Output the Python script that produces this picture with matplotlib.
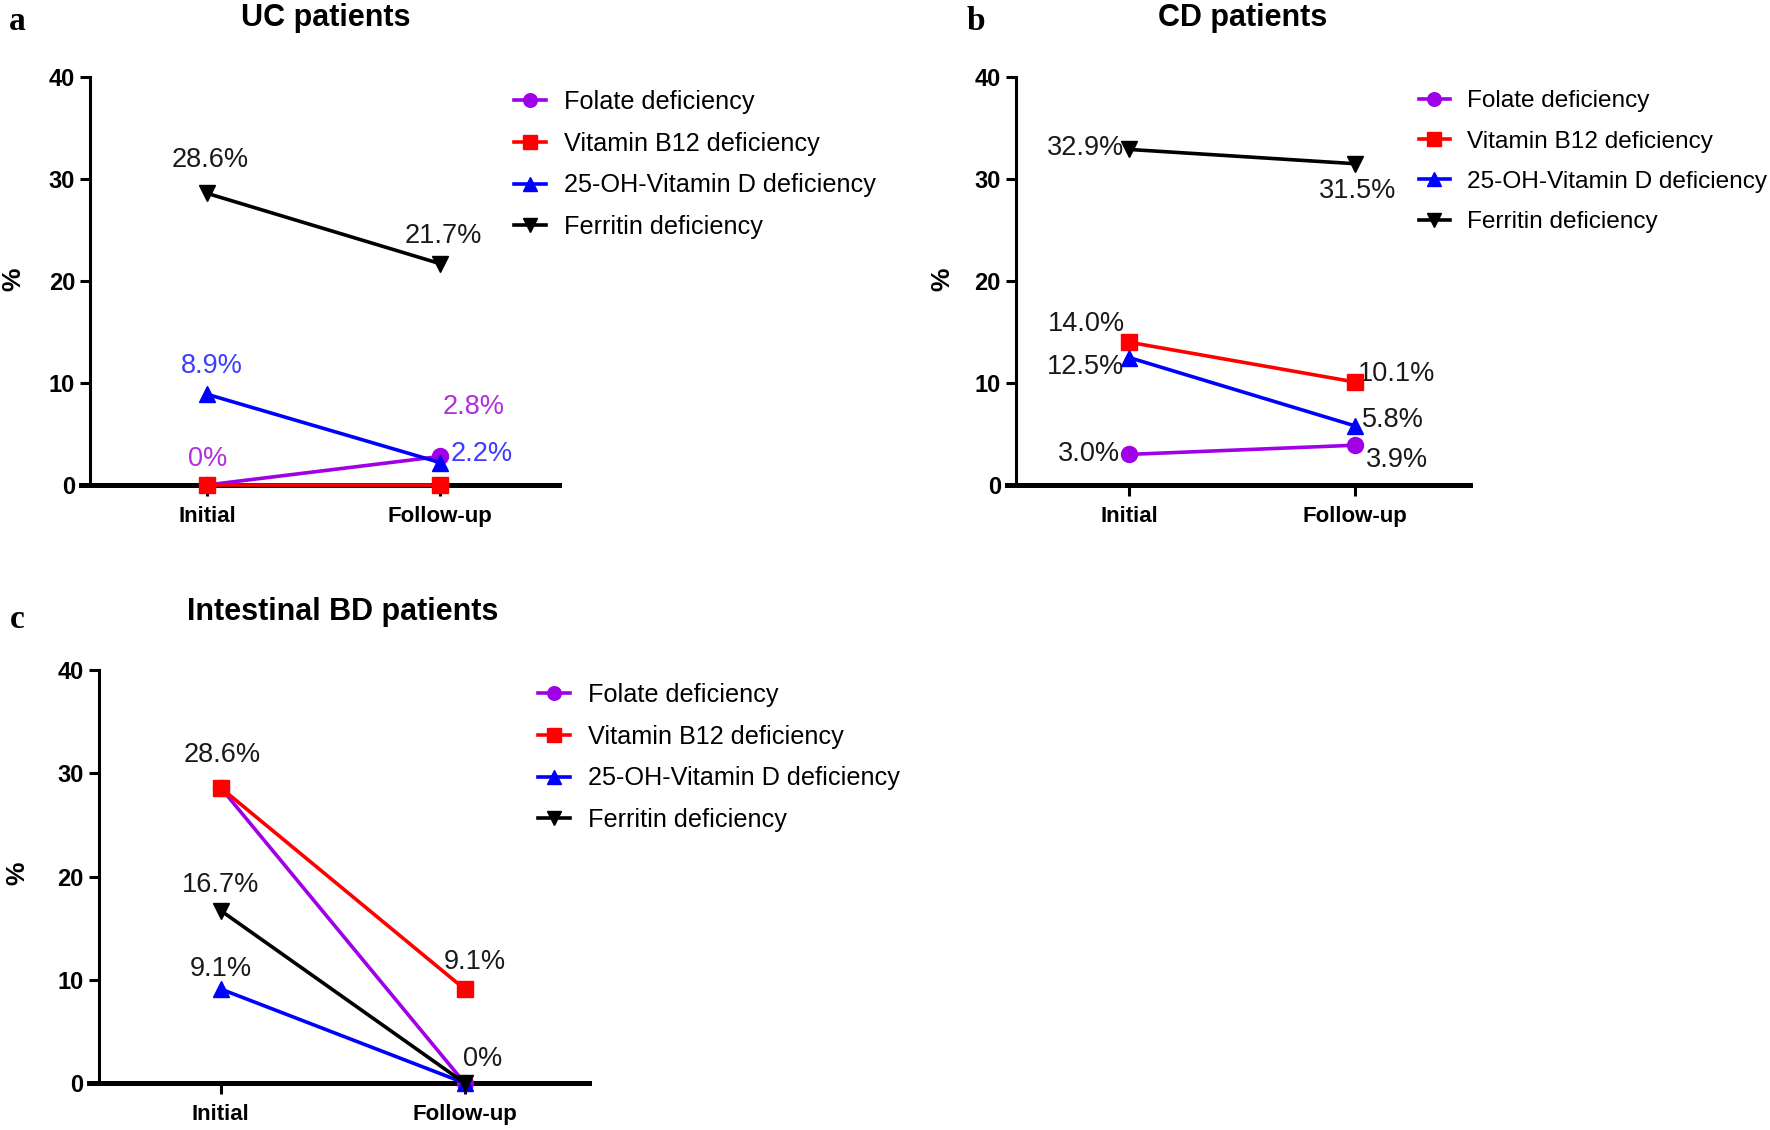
import matplotlib
matplotlib.use("Agg")
import matplotlib.pyplot as plt
from matplotlib import font_manager as fm

names = {f.name for f in fm.fontManager.ttflist}
NARROW = 'Liberation Sans Narrow' if 'Liberation Sans Narrow' in names else 'Liberation Sans'
plt.rcParams['font.family'] = [NARROW, 'DejaVu Sans']

W, H = 1770, 1130

# ---------------- data ----------------
timepoints = ["Initial", "Follow-up"]
series_names = ["Folate deficiency", "Vitamin B12 deficiency",
                "25-OH-Vitamin D deficiency", "Ferritin deficiency"]

uc_folate = [0.0, 2.8]
uc_b12 = [0.0, 0.0]
uc_vitd = [8.9, 2.2]
uc_ferritin = [28.6, 21.7]

cd_folate = [3.0, 3.9]
cd_b12 = [14.0, 10.1]
cd_vitd = [12.5, 5.8]
cd_ferritin = [32.9, 31.5]

bd_folate = [28.6, 0.0]
bd_b12 = [28.6, 9.1]
bd_vitd = [9.1, 0.0]
bd_ferritin = [16.7, 0.0]

y_ticks = [0, 10, 20, 30, 40]
titles = ["UC patients", "CD patients", "Intestinal BD patients"]
panel_letters = ["a", "b", "c"]

# ---------------- styles ----------------
colors = ['#A000E6', '#FF0000', '#0000FF', '#000000']
markers = ['o', 's', '^', 'v']
TXT = '#1a1a1a'


def fmt(v):
    return '0%' if v == 0 else f'{v:.1f}%'


def px_ax(left, right, top, bottom):
    return [left / W, 1 - bottom / H, (right - left) / W, (bottom - top) / H]


fig = plt.figure(figsize=(W / 100, H / 100), dpi=100)

panels = [
    dict(rect=px_ax(81, 559, 77, 485),
         data=[uc_folate, uc_b12, uc_vitd, uc_ferritin],
         # (series index, point index, dx, dy, color)
         ann=[(3, 0, 3, 33, TXT), (3, 1, 3, 28, TXT),
              (2, 0, 5, 28, '#3d3dff'), (0, 1, 34, 49, '#B030E0'),
              (2, 1, 42, 9, '#3d3dff'), (0, 0, 1, 26, '#B030E0')],
         legend=(514, 90), lfs=18.2, lsp=0.70,
         title=(326, 26), letter=(17, 30), ylab=(13, 279)),
    dict(rect=px_ax(1007, 1470, 77, 485),
         data=[cd_folate, cd_b12, cd_vitd, cd_ferritin],
         ann=[(3, 0, -43, 1, TXT), (3, 1, 3, -27, TXT),
              (1, 0, -43, 18, TXT), (2, 0, -43, -9, TXT),
              (1, 1, 42, 8, TXT), (2, 1, 38, 6, TXT),
              (0, 0, -40, 0, TXT), (0, 1, 42, -15, TXT)],
         legend=(1419, 90), lfs=17.6, lsp=0.75,
         title=(1243, 26), letter=(976, 30), ylab=(942, 279)),
    dict(rect=px_ax(89, 589, 670, 1083),
         data=[bd_folate, bd_b12, bd_vitd, bd_ferritin],
         ann=[(1, 0, 1, 33, TXT), (3, 0, 0, 26, TXT),
              (2, 0, 0, 20, TXT), (1, 1, 10, 27, TXT),
              (3, 1, 18, 24, TXT)],
         legend=(538, 683), lfs=18.2, lsp=0.70,
         title=(343, 620), letter=(17, 628), ylab=(17, 873)),
]

x = list(range(len(timepoints)))

for i, p in enumerate(panels):
    ax = fig.add_axes(p['rect'])
    for k, vals in enumerate(p['data']):
        ax.plot(x, vals, color=colors[k], marker=markers[k], markersize=11.5,
                linewidth=2.6, label=series_names[k], clip_on=False, zorder=3 + k)
    ax.set_xlim(-0.54, 1.51)
    ax.set_ylim(0, 40)
    ax.set_yticks(y_ticks)
    ax.set_xticks(x)
    ax.set_xticklabels(timepoints)
    for s in ['top', 'right']:
        ax.spines[s].set_visible(False)
    ax.spines['left'].set_position(('data', -0.50))
    ax.spines['left'].set_linewidth(2.2)
    ax.spines['bottom'].set_linewidth(3.6)
    ax.spines['bottom'].set_zorder(2)
    ax.tick_params(axis='y', length=7, width=2.2, labelsize=17, pad=4)
    ax.tick_params(axis='x', length=8, width=2.2, labelsize=16, pad=7)
    for lab in ax.get_yticklabels() + ax.get_xticklabels():
        lab.set_fontweight('bold')

    for (k, j, dx, dy, c) in p['ann']:
        v = p['data'][k][j]
        ax.annotate(fmt(v), xy=(x[j], v), xytext=(dx, dy),
                    textcoords='offset pixels', ha='center', va='center',
                    fontsize=19.5, color=c, annotation_clip=False)

    lx, ly = p['legend']
    ax.legend(loc='upper left', bbox_to_anchor=(lx / W, 1 - ly / H),
              bbox_transform=fig.transFigure, frameon=False, fontsize=p['lfs'],
              handlelength=1.25, handletextpad=0.72, labelspacing=p['lsp'],
              borderpad=0, borderaxespad=0, markerscale=0.85)

    tx, ty = p['title']
    fig.text(tx / W, 1 - ty / H, titles[i], ha='center', va='baseline',
             fontsize=22, fontweight='bold')
    lx2, ly2 = p['letter']
    fig.text(lx2 / W, 1 - ly2 / H, panel_letters[i], ha='center', va='baseline',
             fontsize=24, fontweight='bold', family='Liberation Serif')
    yx, yy = p['ylab']
    fig.text(yx / W, 1 - yy / H, '%', ha='center', va='center', rotation=90,
             fontsize=19, fontweight='bold')

fig.savefig('out.png', dpi=100)
